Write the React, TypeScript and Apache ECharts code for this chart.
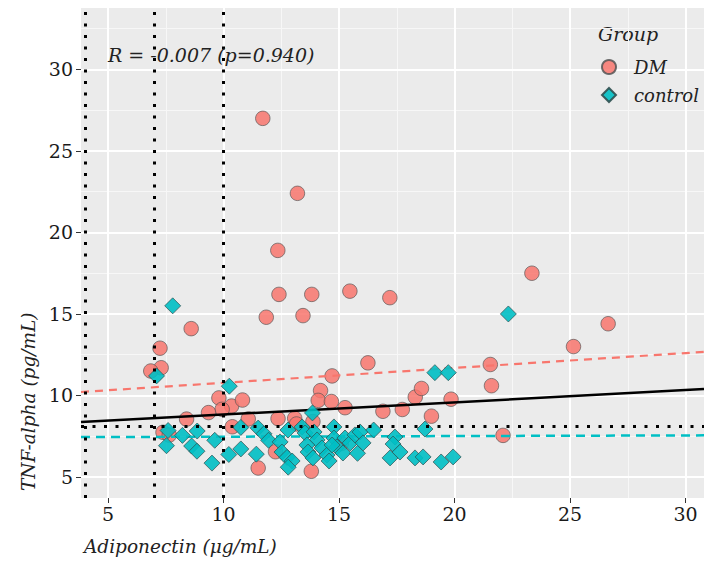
import React, { useEffect, useRef } from "react";
import * as echarts from "echarts";

// Axis ticks and grid
const xTicks = [5, 10, 15, 20, 25, 30];
const yTicks = [5, 10, 15, 20, 25, 30];
const xMinor = [7.5, 12.5, 17.5, 22.5, 27.5];
const yMinor = [7.5, 12.5, 17.5, 22.5, 27.5, 32.5];
const X_MIN = 3.83;
const X_MAX = 30.8;
const Y_MIN = 3.71;
const Y_MAX = 33.77;

// DM group
const dmX = [11.7, 13.2, 12.35, 12.4, 13.82, 15.47, 17.2, 11.85, 13.44, 8.6, 23.35, 26.65, 25.15, 7.25, 7.3, 6.85, 16.25, 21.55, 21.6, 14.7, 14.2, 14.1, 14.67, 9.8, 10.35, 9.94, 10.82, 9.35, 8.4, 11.07, 12.36, 13.08, 13.16, 13.87, 15.26, 16.9, 17.74, 18.3, 18.57, 19.85, 19.0, 22.1, 10.38, 7.38, 7.65, 11.5, 13.8, 12.25, 15.1];
const dmY = [27.0, 22.4, 18.9, 16.2, 16.2, 16.4, 16.0, 14.8, 14.9, 14.1, 17.5, 14.4, 13.0, 12.9, 11.7, 11.5, 12.0, 11.9, 10.6, 11.2, 10.3, 9.7, 9.63, 9.85, 9.35, 9.15, 9.72, 8.95, 8.55, 8.56, 8.58, 8.6, 8.25, 8.4, 9.25, 9.03, 9.14, 9.9, 10.43, 9.77, 8.73, 7.55, 8.08, 7.74, 7.57, 5.55, 5.35, 6.55, 7.05];

// control group
const ctrlX = [7.8, 22.33, 7.1, 10.25, 19.15, 19.73, 13.85, 7.6, 7.53, 8.22, 8.86, 8.62, 8.85, 9.62, 9.5, 10.23, 10.75, 10.75, 11.42, 11.5, 11.75, 11.95, 12.45, 12.79, 12.53, 12.75, 12.97, 12.8, 13.4, 13.53, 13.92, 14.05, 13.61, 13.66, 13.87, 14.26, 14.48, 14.57, 14.78, 14.78, 14.91, 15.17, 15.26, 15.48, 15.69, 15.8, 15.91, 16.04, 14.7, 16.5, 17.42, 17.34, 17.21, 17.64, 18.72, 18.29, 18.64, 19.42, 19.94];
const ctrlY = [15.5, 15.0, 11.2, 10.57, 11.4, 11.4, 8.93, 7.85, 6.92, 7.55, 7.82, 6.9, 6.58, 7.25, 5.85, 6.38, 6.72, 8.04, 6.4, 8.0, 7.65, 7.25, 7.15, 7.88, 6.53, 6.2, 5.98, 5.6, 8.07, 7.7, 7.76, 7.27, 6.96, 6.53, 6.17, 6.78, 6.35, 5.98, 8.07, 7.39, 6.84, 6.47, 7.39, 7.09, 7.58, 6.45, 7.76, 7.09, 6.96, 7.88, 7.45, 7.02, 6.17, 6.53, 7.94, 6.17, 6.23, 5.92, 6.23];

// Reference (dotted) lines
const refX = [4, 7, 10];
const refY = [8.1];

// Linear fits: [intercept, slope]
const fitAll = [8.08, 0.075];
const fitDM = [9.865, 0.0912];
const fitCtrl = [7.43, 0.004];

const FONT = "DejaVu Serif";
const DM_COLOR = "#F8766D";
const CTRL_COLOR = "#00BFC4";

function fitLine(fit: number[]) {
  return [X_MIN, X_MAX].map((x) => [x, fit[0] + fit[1] * x]);
}

export default function App() {
  const ref = useRef<HTMLDivElement>(null);

  useEffect(() => {
    document.body.style.margin = "0";
    if (!ref.current) return;
    const chart = echarts.init(ref.current, null, { renderer: "svg" });

    const gridLines: any[] = [];
    xMinor.forEach((v) => gridLines.push({ xAxis: v, lineStyle: { color: "#f7f7f7", width: 1, type: "solid" } }));
    yMinor.forEach((v) => gridLines.push({ yAxis: v, lineStyle: { color: "#f7f7f7", width: 1, type: "solid" } }));
    xTicks.forEach((v) => gridLines.push({ xAxis: v, lineStyle: { color: "#ffffff", width: 2, type: "solid" } }));
    yTicks.forEach((v) => gridLines.push({ yAxis: v, lineStyle: { color: "#ffffff", width: 2, type: "solid" } }));

    const refLines: any[] = [];
    refX.forEach((v) => refLines.push({ xAxis: v }));
    refY.forEach((v) => refLines.push({ yAxis: v }));

    const textBase = { fontFamily: FONT, fontStyle: "italic", fill: "#222" };

    const option: any = {
      animation: false,
      textStyle: { fontFamily: FONT },
      grid: {
        left: 81,
        right: 0,
        top: 8,
        bottom: 65,
        show: true,
        backgroundColor: "#EBEBEB",
        borderWidth: 0,
      },
      xAxis: {
        type: "value",
        min: X_MIN,
        max: X_MAX,
        axisLine: { show: false },
        splitLine: { show: false },
        axisTick: { show: true, customValues: xTicks, length: 5, lineStyle: { color: "#333", width: 1 } },
        axisLabel: {
          customValues: xTicks,
          fontFamily: FONT,
          fontSize: 19,
          color: "#1a1a1a",
          margin: 6,
        },
      },
      yAxis: {
        type: "value",
        min: Y_MIN,
        max: Y_MAX,
        axisLine: { show: false },
        splitLine: { show: false },
        axisTick: { show: true, customValues: yTicks, length: 5, lineStyle: { color: "#333", width: 1 } },
        axisLabel: {
          customValues: yTicks,
          fontFamily: FONT,
          fontSize: 19,
          color: "#1a1a1a",
          margin: 8,
        },
      },
      legend: {
        data: ["DM", "control"],
        orient: "vertical",
        left: 601,
        top: 58,
        padding: 0,
        itemWidth: 14,
        itemHeight: 14,
        itemGap: 10,
        textStyle: {
          fontFamily: FONT,
          fontSize: 18,
          fontStyle: "italic",
          color: "#222",
          padding: [0, 0, 0, 13],
        },
      },
      graphic: [
        {
          type: "text",
          left: 108,
          top: 45,
          z: 100,
          style: { ...textBase, text: "R = -0.007 (p=0.940)", fontSize: 19 },
        },
        {
          type: "text",
          left: 598,
          top: 24,
          style: { ...textBase, text: "Group", fontSize: 19 },
        },
        {
          type: "text",
          left: 84,
          top: 537,
          style: { ...textBase, text: "Adiponectin (μg/mL)", fontSize: 18.5 },
        },
        {
          type: "text",
          x: 28,
          y: 491,
          rotation: Math.PI / 2,
          style: {
            ...textBase,
            text: "TNF-alpha (pg/mL)",
            fontSize: 18.5,
            align: "left",
            verticalAlign: "middle",
          },
        },
      ],
      series: [
        {
          name: "grid",
          type: "line",
          data: [],
          z: 1,
          silent: true,
          markLine: {
            z: 1,
            silent: true,
            symbol: ["none", "none"],
            label: { show: false },
            animation: false,
            data: gridLines,
          },
        },
        {
          name: "DM",
          type: "scatter",
          z: 3,
          symbol: "circle",
          symbolSize: 14.5,
          itemStyle: { color: DM_COLOR, opacity: 0.85, borderColor: "#555", borderWidth: 0.8 },
          data: dmX.map((x, i) => [x, dmY[i]]),
        },
        {
          name: "fitAll",
          type: "line",
          z: 4,
          showSymbol: false,
          silent: true,
          lineStyle: { color: "#000", width: 2.5 },
          data: fitLine(fitAll),
        },
        {
          name: "fitDM",
          type: "line",
          z: 4,
          showSymbol: false,
          silent: true,
          lineStyle: { color: DM_COLOR, width: 2.2, type: [8, 6] },
          data: fitLine(fitDM),
        },
        {
          name: "fitCtrl",
          type: "line",
          z: 4,
          showSymbol: false,
          silent: true,
          lineStyle: { color: CTRL_COLOR, width: 2.5, type: [9, 6] },
          data: fitLine(fitCtrl),
        },
        {
          name: "control",
          type: "scatter",
          z: 5,
          symbol: "diamond",
          symbolSize: 16,
          itemStyle: { color: CTRL_COLOR, opacity: 0.9, borderColor: "#2f4f4f", borderWidth: 0.8 },
          data: ctrlX.map((x, i) => [x, ctrlY[i]]),
        },
        {
          name: "ref",
          type: "line",
          data: [],
          z: 6,
          silent: true,
          markLine: {
            z: 10,
            silent: true,
            symbol: ["none", "none"],
            label: { show: false },
            animation: false,
            lineStyle: { color: "#000", width: 3, type: [3, 8.5], cap: "butt" },
            data: refLines,
          },
        },
      ],
    };

    chart.setOption(option);
    return () => chart.dispose();
  }, []);

  return <div ref={ref} style={{ width: 704, height: 563 }} />;
}
